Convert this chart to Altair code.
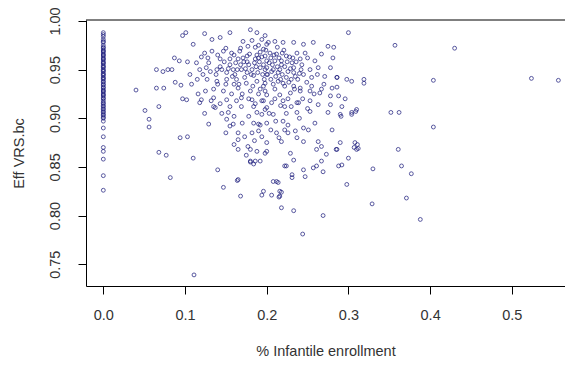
import altair as alt
import pandas as pd

# x = 0 column (no infantile enrollment)
zero_col_y = [0.988, 0.986, 0.984, 0.981, 0.979, 0.978, 0.975, 0.973, 0.972, 0.970,
              0.969, 0.968, 0.966, 0.965, 0.964, 0.962, 0.961, 0.960, 0.958, 0.957,
              0.956, 0.954, 0.953, 0.952, 0.950, 0.949, 0.948, 0.946, 0.945, 0.944,
              0.942, 0.941, 0.940, 0.938, 0.937, 0.935, 0.934, 0.932, 0.931, 0.929,
              0.928, 0.927, 0.925, 0.924, 0.923, 0.921, 0.920, 0.918, 0.916, 0.915,
              0.913, 0.912, 0.910, 0.909, 0.907, 0.906, 0.904, 0.903, 0.901, 0.900,
              0.897, 0.890, 0.881, 0.870, 0.866, 0.858, 0.841, 0.826]

# scattered observations (x = share of infantile enrollment, y = efficiency)
pts = [
    (0.040, 0.929), (0.065, 0.931), (0.074, 0.931), (0.088, 0.937), (0.095, 0.934),
    (0.068, 0.912), (0.051, 0.908), (0.056, 0.899), (0.056, 0.891), (0.097, 0.920),
    (0.065, 0.950), (0.073, 0.948), (0.079, 0.950), (0.084, 0.950), (0.087, 0.962),
    (0.093, 0.959), (0.103, 0.958), (0.097, 0.985), (0.101, 0.988), (0.094, 0.880),
    (0.103, 0.881), (0.068, 0.865), (0.077, 0.862), (0.110, 0.859), (0.082, 0.839),
    (0.140, 0.847), (0.147, 0.829), (0.111, 0.739),
    (0.124, 0.987), (0.155, 0.988), (0.180, 0.991), (0.188, 0.988), (0.194, 0.981),
    (0.200, 0.976), (0.110, 0.976), (0.133, 0.981), (0.143, 0.983), (0.171, 0.979),
    (0.124, 0.967), (0.133, 0.969), (0.147, 0.969), (0.157, 0.967), (0.167, 0.969),
    (0.177, 0.974), (0.186, 0.973), (0.114, 0.957), (0.129, 0.957), (0.143, 0.961),
    (0.155, 0.961), (0.165, 0.961), (0.176, 0.964), (0.190, 0.962), (0.198, 0.964),
    (0.139, 0.950), (0.145, 0.950), (0.151, 0.947), (0.159, 0.950), (0.169, 0.950),
    (0.182, 0.950), (0.192, 0.952), (0.200, 0.952), (0.118, 0.950), (0.122, 0.945),
    (0.106, 0.945), (0.127, 0.940), (0.139, 0.938), (0.151, 0.940), (0.163, 0.940),
    (0.173, 0.942), (0.188, 0.938), (0.198, 0.936), (0.135, 0.930), (0.147, 0.928),
    (0.165, 0.931), (0.180, 0.928), (0.192, 0.930), (0.102, 0.919), (0.120, 0.919),
    (0.135, 0.921), (0.151, 0.919), (0.169, 0.921), (0.182, 0.919), (0.196, 0.918),
    (0.137, 0.911), (0.155, 0.912), (0.169, 0.912), (0.184, 0.912), (0.200, 0.911),
    (0.198, 0.985), (0.210, 0.979), (0.220, 0.978), (0.233, 0.978), (0.245, 0.976),
    (0.257, 0.978), (0.275, 0.974), (0.300, 0.988), (0.196, 0.971), (0.204, 0.967),
    (0.212, 0.966), (0.224, 0.964), (0.237, 0.967), (0.247, 0.967), (0.267, 0.966),
    (0.281, 0.962), (0.200, 0.959), (0.210, 0.959), (0.218, 0.959), (0.231, 0.957),
    (0.241, 0.961), (0.259, 0.959), (0.278, 0.952), (0.198, 0.950), (0.208, 0.950),
    (0.216, 0.950), (0.233, 0.952), (0.253, 0.950), (0.263, 0.952), (0.200, 0.945),
    (0.214, 0.947), (0.224, 0.942), (0.235, 0.943), (0.245, 0.945), (0.255, 0.942),
    (0.271, 0.943), (0.286, 0.942), (0.298, 0.940), (0.196, 0.933), (0.208, 0.935),
    (0.220, 0.936), (0.233, 0.933), (0.241, 0.931), (0.255, 0.933), (0.267, 0.930),
    (0.280, 0.931), (0.200, 0.924), (0.216, 0.924), (0.229, 0.926), (0.241, 0.928),
    (0.253, 0.928), (0.265, 0.926), (0.278, 0.923), (0.288, 0.923), (0.194, 0.918),
    (0.206, 0.916), (0.220, 0.918), (0.237, 0.916), (0.253, 0.918), (0.263, 0.914),
    (0.278, 0.914), (0.292, 0.912),
    (0.129, 0.894), (0.151, 0.899), (0.155, 0.892), (0.159, 0.894), (0.165, 0.885),
    (0.173, 0.881), (0.182, 0.885), (0.190, 0.887), (0.194, 0.881), (0.165, 0.878),
    (0.177, 0.871), (0.180, 0.868), (0.188, 0.866), (0.200, 0.866), (0.165, 0.868),
    (0.180, 0.856), (0.186, 0.856), (0.165, 0.837), (0.118, 0.916), (0.135, 0.912),
    (0.188, 0.906), (0.194, 0.904), (0.184, 0.895), (0.190, 0.894), (0.200, 0.895),
    (0.153, 0.906),
    (0.198, 0.909), (0.208, 0.904), (0.222, 0.912), (0.239, 0.916), (0.275, 0.906),
    (0.290, 0.904), (0.304, 0.906), (0.310, 0.909), (0.220, 0.897), (0.237, 0.906),
    (0.253, 0.907), (0.259, 0.895), (0.280, 0.888), (0.212, 0.885), (0.222, 0.888),
    (0.226, 0.885), (0.235, 0.887), (0.245, 0.890), (0.251, 0.888), (0.200, 0.875),
    (0.218, 0.876), (0.237, 0.880), (0.245, 0.876), (0.263, 0.876), (0.267, 0.871),
    (0.290, 0.875), (0.308, 0.875), (0.312, 0.869), (0.198, 0.864), (0.229, 0.864),
    (0.233, 0.857), (0.261, 0.868), (0.273, 0.863), (0.286, 0.868), (0.300, 0.859),
    (0.267, 0.856), (0.224, 0.851), (0.245, 0.847), (0.257, 0.849), (0.269, 0.845),
    (0.247, 0.840), (0.231, 0.842), (0.231, 0.839), (0.208, 0.835), (0.212, 0.835),
    (0.196, 0.825), (0.206, 0.821), (0.216, 0.825), (0.216, 0.820), (0.298, 0.832),
    (0.164, 0.836), (0.168, 0.820), (0.194, 0.821), (0.214, 0.834), (0.215, 0.819),
    (0.218, 0.824), (0.218, 0.808), (0.233, 0.805), (0.244, 0.781), (0.269, 0.800),
    (0.329, 0.812), (0.330, 0.848), (0.365, 0.851), (0.377, 0.843), (0.371, 0.818),
    (0.388, 0.796), (0.180, 0.855), (0.184, 0.853), (0.192, 0.856), (0.222, 0.851),
    (0.261, 0.851), (0.288, 0.851), (0.292, 0.852),
    (0.357, 0.975), (0.430, 0.972), (0.282, 0.973), (0.286, 0.942), (0.304, 0.938),
    (0.319, 0.940), (0.319, 0.936), (0.404, 0.939), (0.524, 0.941), (0.557, 0.939),
    (0.286, 0.932), (0.296, 0.920), (0.291, 0.902), (0.304, 0.904), (0.309, 0.907),
    (0.352, 0.906), (0.362, 0.906), (0.404, 0.891), (0.285, 0.868), (0.307, 0.870),
    (0.311, 0.873), (0.310, 0.868), (0.361, 0.868),
    # dense core
    (0.172, 0.958), (0.178, 0.955), (0.185, 0.957), (0.188, 0.965), (0.192, 0.968),
    (0.205, 0.962), (0.207, 0.955), (0.213, 0.953), (0.219, 0.945), (0.226, 0.948),
    (0.230, 0.940), (0.205, 0.940), (0.195, 0.945), (0.184, 0.944), (0.176, 0.947),
    (0.168, 0.955), (0.162, 0.957), (0.155, 0.955), (0.148, 0.958), (0.143, 0.953),
    (0.138, 0.945), (0.131, 0.948), (0.126, 0.952), (0.158, 0.943), (0.166, 0.935),
    (0.175, 0.936), (0.183, 0.933), (0.190, 0.925), (0.198, 0.928), (0.210, 0.930),
    (0.214, 0.938), (0.222, 0.933), (0.226, 0.920), (0.217, 0.913), (0.210, 0.920),
    (0.203, 0.905), (0.211, 0.897), (0.224, 0.905), (0.230, 0.912), (0.244, 0.920),
    (0.249, 0.937), (0.240, 0.946), (0.236, 0.958), (0.228, 0.963), (0.221, 0.970),
    (0.213, 0.973), (0.202, 0.978), (0.190, 0.975), (0.182, 0.980), (0.168, 0.972),
    (0.160, 0.965), (0.150, 0.972), (0.140, 0.965), (0.128, 0.962), (0.120, 0.963),
    (0.115, 0.940), (0.125, 0.928), (0.132, 0.918), (0.143, 0.915), (0.145, 0.905),
    (0.160, 0.902), (0.170, 0.895), (0.178, 0.902), (0.186, 0.915), (0.163, 0.918),
    (0.157, 0.925), (0.170, 0.925), (0.178, 0.920), (0.160, 0.935), (0.150, 0.935),
    (0.140, 0.935), (0.196, 0.955), (0.201, 0.945), (0.218, 0.955), (0.233, 0.947),
    (0.243, 0.955), (0.250, 0.962), (0.262, 0.945), (0.270, 0.935), (0.258, 0.925),
    (0.250, 0.910), (0.240, 0.900), (0.226, 0.893), (0.215, 0.880), (0.205, 0.888),
    (0.192, 0.893), (0.185, 0.877), (0.175, 0.862), (0.160, 0.873), (0.150, 0.885),
    (0.124, 0.905), (0.116, 0.925), (0.108, 0.935),
    (0.171, 0.962), (0.174, 0.951), (0.179, 0.966), (0.181, 0.945), (0.187, 0.953),
    (0.189, 0.947), (0.191, 0.958), (0.194, 0.963), (0.197, 0.940), (0.199, 0.970),
    (0.203, 0.957), (0.206, 0.948), (0.209, 0.965), (0.211, 0.943), (0.215, 0.962),
    (0.217, 0.940), (0.219, 0.967), (0.222, 0.953), (0.225, 0.958), (0.227, 0.937),
    (0.229, 0.951), (0.232, 0.962), (0.234, 0.930), (0.238, 0.940), (0.242, 0.950),
    (0.186, 0.961), (0.176, 0.958), (0.164, 0.950), (0.161, 0.945), (0.153, 0.951),
]

x_ticks = [0.0, 0.1, 0.2, 0.3, 0.4, 0.5]
y_ticks = [0.75, 0.80, 0.85, 0.90, 0.95, 1.00]

xs = [0.0] * len(zero_col_y) + [p[0] for p in pts]
ys = list(zero_col_y) + [p[1] for p in pts]
df = pd.DataFrame({"x": xs, "y": ys})

W, H = 479, 266
FONT = "Liberation Sans"
FS = 14.5
TXT = "#333333"

points = alt.Chart(df).mark_point(
    shape="circle", filled=False, size=15, strokeWidth=0.9,
    color="#18187a", opacity=0.8
).encode(
    x=alt.X("x:Q",
            scale=alt.Scale(domain=[-0.0212, 0.5651], nice=False, zero=False),
            axis=alt.Axis(values=x_ticks, format=".1f", title="% Infantile enrollment",
                          grid=False, domainColor="black", tickColor="black",
                          tickSize=8, labelPadding=14, labelFont=FONT, labelFontSize=FS,
                          labelColor=TXT, labelFlush=False,
                          titleFont=FONT, titleFontSize=FS, titleFontWeight="normal",
                          titleColor=TXT, titleY=65, titleBaseline="middle")),
    y=alt.Y("y:Q",
            scale=alt.Scale(domain=[0.7276, 1.001], nice=False, zero=False),
            axis=alt.Axis(values=y_ticks, format=".2f", title="Eff VRS.bc",
                          grid=False, domainColor="black", tickColor="black",
                          tickSize=8, labelPadding=16, labelAngle=-90,
                          labelAlign="center", labelBaseline="bottom",
                          labelFont=FONT, labelFontSize=FS, labelColor=TXT,
                          labelFlush=False,
                          titleFont=FONT, titleFontSize=FS, titleFontWeight="normal",
                          titleColor=TXT, titleX=-67, titleY=H / 2,
                          titleBaseline="middle", titleAlign="center", titleAngle=270)),
)

frame_top = alt.Chart(pd.DataFrame({"k": [0]})).mark_rule(
    color="black", strokeWidth=1
).encode(x=alt.value(0), x2=alt.value(W), y=alt.value(0))

chart = alt.layer(points, frame_top).properties(
    width=W, height=H,
    padding={"left": 78, "top": 12, "right": 0, "bottom": 72},
    autosize="none",
    background="white",
).configure_view(stroke=None)

chart.save("out.html", embed_options={"renderer": "svg", "actions": False})
